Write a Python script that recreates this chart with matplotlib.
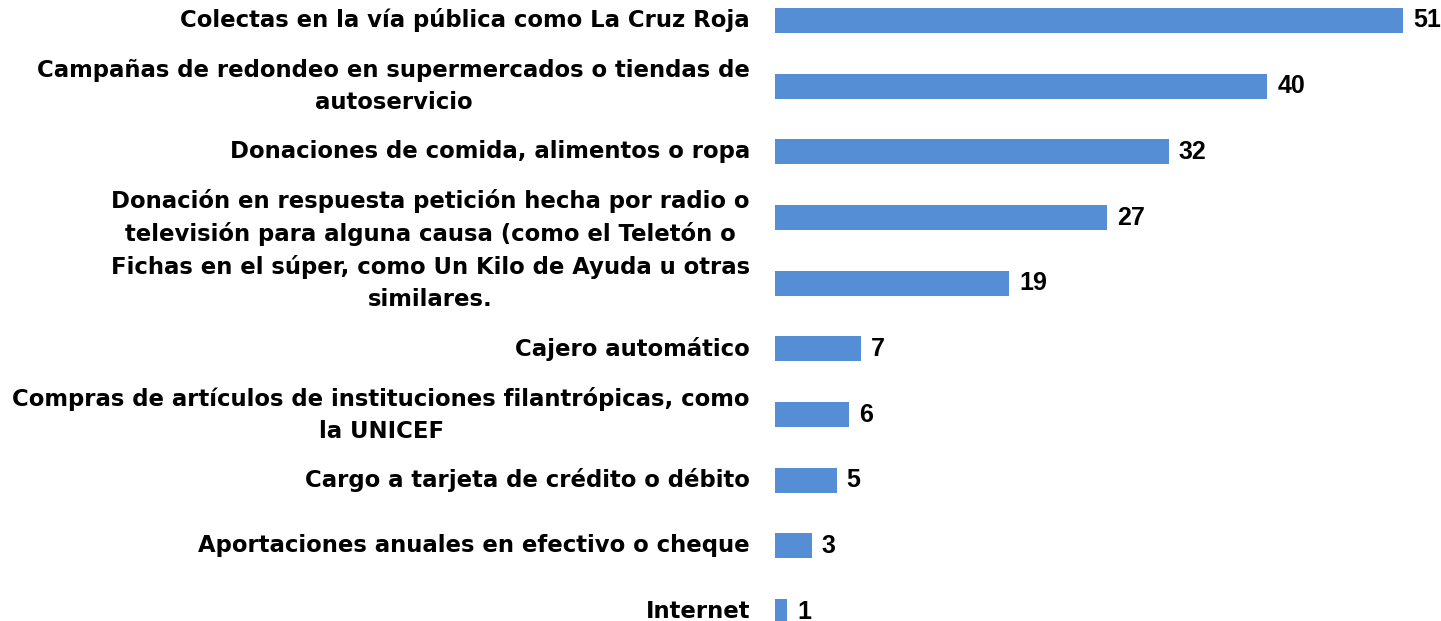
import numpy as np
import matplotlib
matplotlib.use('Agg')
from matplotlib import pyplot as plt

# ---- Daten ----
categorias = [
    "Colectas en la vía pública como La Cruz Roja",
    "Campañas de redondeo en supermercados o tiendas de\nautoservicio",
    "Donaciones de comida, alimentos o ropa",
    "Donación en respuesta petición hecha por radio o\ntelevisión para alguna causa (como el Teletón o",
    "Fichas en el súper, como Un Kilo de Ayuda u otras\nsimilares.",
    "Cajero automático",
    "Compras de artículos de instituciones filantrópicas, como\nla UNICEF",
    "Cargo a tarjeta de crédito o débito",
    "Aportaciones anuales en efectivo o cheque",
    "Internet",
]
valores = [51, 40, 32, 27, 19, 7, 6, 5, 3, 1]

color_barra = '#558ED5'

# ---- Figure ----
fig = plt.figure(figsize=(14.41, 6.21), dpi=100)
ax = fig.add_axes([775 / 1441, 0, 666 / 1441, 1])

pos = np.arange(len(categorias))
barras = ax.barh(pos, valores, height=0.38, color=color_barra)

ax.set_ylim(9.144, -0.312)
ax.set_xlim(0, 54.1)

ax.set_yticks(pos)
ax.set_yticklabels(categorias, fontsize=16.4, fontweight='bold',
                   family=['DejaVu Sans'],
                   ha='right', va='center', multialignment='center',
                   linespacing=1.5)
ax.tick_params(axis='y', length=0, pad=18)
ax.set_xticks([])

for s in ax.spines.values():
    s.set_visible(False)

# ---- Werte an den Balken ----
for b, v in zip(barras, valores):
    ax.annotate(str(v), (b.get_width(), b.get_y() + b.get_height() / 2),
                xytext=(7.2, 0), textcoords='offset points',
                ha='left', va='center', fontsize=18, fontweight='bold',
                family=['Liberation Sans'])

fig.savefig('out.png', dpi=100)
